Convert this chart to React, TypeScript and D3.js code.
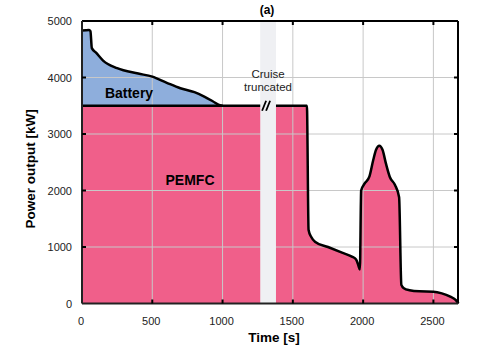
import React from "react";
import * as d3 from "d3";

const batteryT = [0, 50, 60, 70, 100, 150, 250, 400, 500, 600, 700, 800, 870, 930, 980, 1000];
const batteryP = [4830, 4840, 4820, 4520, 4440, 4300, 4165, 4070, 4015, 3910, 3810, 3740, 3660, 3580, 3510, 3500];
const baseP = 3500;

const fcT = [0, 1600, 1612, 1630, 1660, 1750, 1850, 1920, 1950, 1968, 1977, 1986, 2010, 2045, 2072, 2092, 2115, 2138, 2162, 2190, 2226, 2256, 2272, 2290, 2330, 2400, 2500, 2560, 2620, 2660, 2678];
const fcP = [3500, 3500, 1300, 1180, 1090, 1000, 900, 830, 780, 660, 600, 2000, 2120, 2250, 2540, 2720, 2790, 2720, 2480, 2240, 2100, 1880, 330, 270, 235, 215, 210, 180, 120, 60, 0];

const xTicks = [0, 500, 1000, 1500, 2000, 2500];
const yTicks = [0, 1000, 2000, 3000, 4000, 5000];
const cruiseBand = [1268, 1380];

const W = 495, H = 359;
const L = 82, R = 458, T = 21, B = 303.5;

export default function App() {
  const x = d3.scaleLinear().domain([0, 2675]).range([L, R]);
  const y = d3.scaleLinear().domain([0, 5000]).range([B, T]);
  const batt = batteryT.map((t, i) => [t, batteryP[i]] as [number, number]);
  const fc = fcT.map((t, i) => [t, fcP[i]] as [number, number]);
  const curve = d3.curveMonotoneX;
  const battArea = d3.area<[number, number]>().x(d => x(d[0])).y0(y(baseP)).y1(d => y(d[1])).curve(curve)(batt)!;
  const battLine = d3.line<[number, number]>().x(d => x(d[0])).y(d => y(d[1])).curve(curve)(batt)!;
  const fcArea = d3.area<[number, number]>().x(d => x(d[0])).y0(y(0)).y1(d => y(d[1])).curve(curve)(fc)!;
  const fcLine = d3.line<[number, number]>().x(d => x(d[0])).y(d => y(d[1])).curve(curve)(fc)!;
  const font = "Liberation Sans, Arial, sans-serif";
  const bx = (cruiseBand[0] + cruiseBand[1]) / 2;
  return (
    <svg width={W} height={H} style={{ position: "absolute", left: 0, top: 0 }} fontFamily={font}>
      <rect width={W} height={H} fill="#fff" />
      <path d={fcArea} fill="#f05f8a" />
      <path d={battArea} fill="#8eaedc" />
      {xTicks.slice(1).map(t => <line key={"gx" + t} x1={x(t)} x2={x(t)} y1={T} y2={B} stroke="#c8c8c8" strokeWidth={1} />)}
      {yTicks.slice(1, -1).map(t => <line key={"gy" + t} x1={L} x2={R} y1={y(t)} y2={y(t)} stroke="#c8c8c8" strokeWidth={1} />)}
      <path d={fcLine} fill="none" stroke="#000" strokeWidth={2.5} strokeLinejoin="round" />
      <path d={battLine} fill="none" stroke="#000" strokeWidth={2.5} strokeLinejoin="round" />
      <rect x={x(cruiseBand[0])} y={T} width={x(cruiseBand[1]) - x(cruiseBand[0])} height={B - T} fill="#eff0f3" />
      <line x1={x(bx) - 6} x2={x(bx) - 2} y1={y(baseP) + 5} y2={y(baseP) - 5} stroke="#000" strokeWidth={1.8} />
      <line x1={x(bx) - 2} x2={x(bx) + 2} y1={y(baseP) + 5} y2={y(baseP) - 5} stroke="#000" strokeWidth={1.8} />
      {/* frame */}
      <line x1={L} x2={R} y1={T} y2={T} stroke="#000" strokeWidth={2} />
      <line x1={R} x2={R} y1={T} y2={B} stroke="#000" strokeWidth={2} />
      <line x1={L} x2={L} y1={T} y2={B} stroke="#222" strokeWidth={2} />
      <line x1={L} x2={R} y1={B} y2={B} stroke="#222" strokeWidth={2} />
      {xTicks.slice(1).map(t => (
        <g key={"tx" + t}>
          <line x1={x(t)} x2={x(t)} y1={B} y2={B - 4} stroke="#000" strokeWidth={2} />
          <line x1={x(t)} x2={x(t)} y1={T} y2={T + 4} stroke="#000" strokeWidth={2} />
        </g>
      ))}
      {yTicks.slice(1, -1).map(t => (
        <g key={"ty" + t}>
          <line x1={L} x2={L + 4} y1={y(t)} y2={y(t)} stroke="#000" strokeWidth={2} />
          <line x1={R} x2={R - 4} y1={y(t)} y2={y(t)} stroke="#000" strokeWidth={2} />
        </g>
      ))}
      {xTicks.map(t => (
        <text key={"lx" + t} x={x(t) - 1} y={325} fontSize={11} textAnchor="middle" fill="#222">{t}</text>
      ))}
      {yTicks.map(t => (
        <text key={"ly" + t} x={72} y={y(t) + 4} fontSize={11} textAnchor="end" fill="#222">{t}</text>
      ))}
      <text x={274} y={342} fontSize={13.5} fontWeight="bold" textAnchor="middle">Time [s]</text>
      <text transform="translate(35,169) rotate(-90)" fontSize={13.5} fontWeight="bold" textAnchor="middle">Power output [kW]</text>
      <text x={267} y={14} fontSize={12} fontWeight="bold" textAnchor="middle">(a)</text>
      <text x={129} y={98} fontSize={14} fontWeight="bold" textAnchor="middle">Battery</text>
      <text x={190} y={185} fontSize={14} fontWeight="bold" textAnchor="middle">PEMFC</text>
      <text x={268} y={77.5} fontSize={11.5} textAnchor="middle" fill="#222">Cruise</text>
      <text x={268} y={91} fontSize={11.5} textAnchor="middle" fill="#222">truncated</text>
    </svg>
  );
}
